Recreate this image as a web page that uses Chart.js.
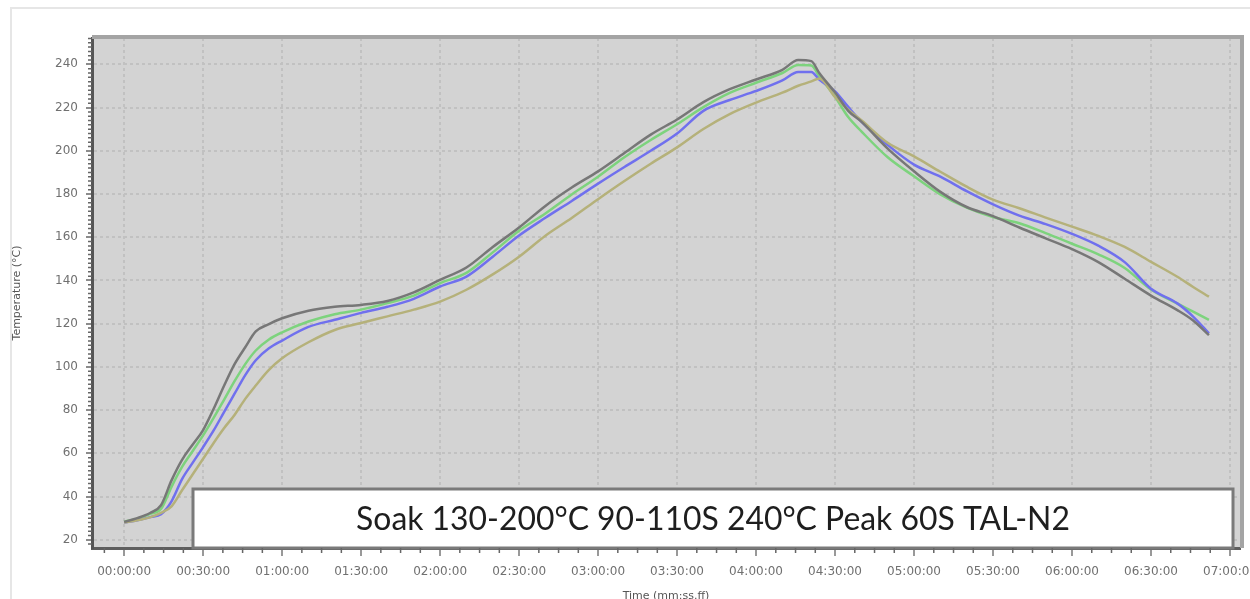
<!DOCTYPE html>
<html>
<head>
<meta charset="utf-8">
<title>Reflow profile</title>
<script src="https://cdn.jsdelivr.net/npm/chart.js@4.4.1/dist/chart.umd.min.js"></script>
<style>
  html, body { margin: 0; padding: 0; background: #fff; }
  #wrap { width: 1250px; height: 599px; overflow: hidden; }
</style>
</head>
<body>
<div id="wrap"><canvas id="profile" width="1250" height="599"></canvas></div>
<script>
// Time in seconds (shown on the axis as mm:ss.ff)
const times = [0, 5, 10, 14, 18, 22, 26, 30, 34, 38,
  42, 46, 50, 55, 60, 70, 80, 90, 100, 110,
  120, 130, 140, 150, 160, 170, 180, 190, 200, 210,
  220, 230, 240, 250, 256, 261, 264, 270, 275, 280,
  290, 300, 310, 320, 330, 340, 350, 360, 370, 380,
  390, 400, 406, 412];

// Temperatures per thermocouple (°C)
const probeGray = [28.3, 30, 32.5, 36, 47.5, 57, 64, 70.8, 80.6, 91.4,
  101.4, 109.1, 116.4, 119.8, 122.5, 126, 127.8, 128.7, 130.5, 134.5,
  140.3, 146, 155.5, 164.5, 174.5, 183, 190.5, 199, 207.5, 214.5,
  222.5, 228.5, 233, 237.5, 242, 241.5, 236, 227, 218.5, 213.5,
  201, 190.5, 181, 174, 169.8, 164.5, 159.5, 154.5, 148.5, 140.8,
  133, 126.3, 121.5, 114.7];

const probeGreen = [28.3, 29.8, 32, 34.2, 44.5, 53.7, 61, 68.3, 76.4, 84.9,
  93.5, 101.3, 107.6, 112.7, 116, 121, 124.4, 126.5, 129.5, 133,
  138.8, 143.5, 153, 163, 171, 179.8, 188, 197, 205, 212.3,
  220.2, 226.8, 231.5, 236, 239.7, 239.5, 234.5, 225, 215.6, 209,
  197, 188.2, 179.8, 173.7, 169.4, 166.5, 161.9, 157, 152.1, 145.8,
  135.8, 129.3, 125.6, 121.8];

const probeBlue = [28, 29, 30.5, 31.8, 37.8, 48.1, 55.6, 62.9, 70.6, 79.2,
  87.7, 96.2, 103.1, 108.6, 112.2, 118.5, 121.8, 125, 127.8, 131.5,
  137.2, 141.8, 151, 160.8, 169, 176.8, 184.8, 192.5, 200, 208,
  218.5, 223.5, 227.7, 232.6, 236.5, 236.5, 233, 227.5, 220.3, 213.5,
  202.7, 193.6, 188, 181.3, 175.2, 170, 166.1, 161.6, 156.1, 148.5,
  136.2, 129.4, 123.3, 115.5];

const probeKhaki = [28, 29, 30.5, 32.5, 35.5, 42.9, 50.2, 57.5, 64.8, 71.7,
  77.9, 85.2, 91.4, 98.6, 104, 111.4, 117.1, 120.3, 123.4, 126.5,
  130.2, 135.7, 142.8, 151, 160.7, 168.9, 177.6, 186, 194, 201.6,
  210.1, 217, 222.3, 226.9, 230.1, 232.1, 233.5, 224.9, 219, 214.1,
  203.7, 197.4, 190.3, 183.4, 177.4, 173.4, 169.1, 164.9, 160.6, 155.5,
  148.6, 141.7, 137, 132.5];

// Axis ticks
const yTicks = [20, 40, 60, 80, 100, 120, 140, 160, 180, 200, 220, 240];
const xTicks = [0, 30, 60, 90, 120, 150, 180, 210, 240, 270, 300, 330, 360, 390, 420];
const xTickLabels = ['00:00:00', '00:30:00', '01:00:00', '01:30:00', '02:00:00',
  '02:30:00', '03:00:00', '03:30:00', '04:00:00', '04:30:00', '05:00:00',
  '05:30:00', '06:00:00', '06:30:00', '07:00:00'];

const profileText = 'Soak 130-200°C 90-110S 240°C Peak 60S TAL-N2';

function toPoints(values) {
  return times.map((t, i) => ({ x: t, y: values[i] }));
}

// Gray plot background, outer frame
const plotBackground = {
  id: 'plotBackground',
  beforeDraw(chart) {
    const { ctx, chartArea: a, width, height } = chart;
    ctx.save();
    ctx.fillStyle = '#ffffff';
    ctx.fillRect(0, 0, width, height);
    ctx.strokeStyle = '#e6e6e6';
    ctx.lineWidth = 2;
    ctx.beginPath();
    ctx.moveTo(11, height);
    ctx.lineTo(11, 8);
    ctx.lineTo(width, 8);
    ctx.stroke();
    ctx.fillStyle = '#d3d3d3';
    ctx.fillRect(a.left, a.top, a.right - a.left, a.bottom - a.top);
    ctx.restore();
  }
};

// White label box at the bottom of the plot
const profileLabel = {
  id: 'profileLabel',
  afterDatasetsDraw(chart) {
    const { ctx, chartArea: a } = chart;
    const left = a.left + 101, right = a.right - 7;
    const top = a.bottom - 59, bottom = a.bottom;
    ctx.save();
    ctx.fillStyle = '#ffffff';
    ctx.fillRect(left, top, right - left, bottom - top);
    ctx.strokeStyle = '#7a7a7a';
    ctx.lineWidth = 3;
    ctx.strokeRect(left, top, right - left, bottom - top);
    ctx.font = '30px Lato';
    const size = 30 * 715 / ctx.measureText(profileText).width;
    ctx.font = size.toFixed(1) + 'px Lato';
    ctx.fillStyle = '#1e1e1e';
    ctx.textAlign = 'center';
    ctx.textBaseline = 'middle';
    ctx.fillText(profileText, (left + right) / 2, top + 31);
    ctx.restore();
  }
};

// top/right frame and small minor ticks
const axisExtras = {
  id: 'axisExtras',
  afterDraw(chart) {
    const { ctx, chartArea: a, scales: { x, y } } = chart;
    ctx.save();
    ctx.strokeStyle = '#a4a4a4';
    ctx.lineWidth = 4;
    ctx.beginPath();
    ctx.moveTo(a.left, a.top - 1);
    ctx.lineTo(a.right + 2, a.top - 1);
    ctx.lineTo(a.right + 2, a.bottom);
    ctx.stroke();

    ctx.strokeStyle = '#666';
    ctx.lineWidth = 1.5;
    ctx.beginPath();
    for (let v = 18; v < y.max; v += 2) {
      if (v % 20 === 0) continue;
      const py = y.getPixelForValue(v);
      ctx.moveTo(a.left - 4, py);
      ctx.lineTo(a.left, py);
    }
    for (let t = -7.5; t < x.max; t += 7.5) {
      if (t % 30 === 0) continue;
      const px = x.getPixelForValue(t);
      ctx.moveTo(px, a.bottom);
      ctx.lineTo(px, a.bottom + 5);
    }
    ctx.stroke();
    ctx.restore();
  }
};

const tickFont = { family: 'DejaVu Sans', size: 12 };
const titleFont = { family: 'DejaVu Sans', size: 11 };

new Chart(document.getElementById('profile'), {
  type: 'line',
  data: {
    datasets: [
      { label: 'TC1', data: toPoints(probeGray), borderColor: '#777777' },
      { label: 'TC4', data: toPoints(probeKhaki), borderColor: '#b5b17a' },
      { label: 'TC3', data: toPoints(probeBlue), borderColor: '#7070ee' },
      { label: 'TC2', data: toPoints(probeGreen), borderColor: '#7dd37d' }
    ]
  },
  options: {
    responsive: false,
    animation: false,
    devicePixelRatio: 1,
    layout: { padding: { top: 38, right: 10, left: 0, bottom: 0 } },
    elements: {
      line: { borderWidth: 2.5, tension: 0.2, cubicInterpolationMode: 'monotone', fill: false },
      point: { radius: 0 }
    },
    plugins: {
      legend: { display: false },
      tooltip: { enabled: false }
    },
    scales: {
      x: {
        type: 'linear',
        min: -12.2,
        max: 423.8,
        afterBuildTicks: s => { s.ticks = xTicks.map(v => ({ value: v })); },
        afterFit: s => { s.height = 51; s.paddingLeft = 0; s.paddingRight = 0; },
        ticks: {
          callback: v => xTickLabels[xTicks.indexOf(v)],
          autoSkip: false,
          maxRotation: 0,
          padding: 9,
          color: '#707070',
          font: tickFont
        },
        grid: { color: '#c1c1c1', lineWidth: 2, tickLength: 8, tickColor: '#777', tickWidth: 1.5 },
        border: { display: true, color: '#5e5e5e', width: 3, dash: [3, 3] },
        title: {
          display: true,
          text: 'Time (mm:ss.ff)',
          color: '#555',
          font: titleFont,
          padding: { top: 0, bottom: -4 }
        }
      },
      y: {
        min: 16.2,
        max: 252.2,
        afterBuildTicks: s => { s.ticks = yTicks.map(v => ({ value: v })); },
        afterFit: s => { s.width = 92; s.paddingTop = 0; s.paddingBottom = 0; },
        ticks: { padding: 8, color: '#707070', font: tickFont },
        grid: { color: '#c1c1c1', lineWidth: 2, tickLength: 6, tickColor: '#666', tickWidth: 1.5 },
        border: { display: true, color: '#555555', width: 3, dash: [3, 3] },
        title: {
          display: true,
          text: 'Temperature (°C)',
          color: '#555',
          font: titleFont,
          padding: { top: 11, bottom: 0 }
        }
      }
    }
  },
  plugins: [plotBackground, profileLabel, axisExtras]
});
</script>
</body>
</html>
